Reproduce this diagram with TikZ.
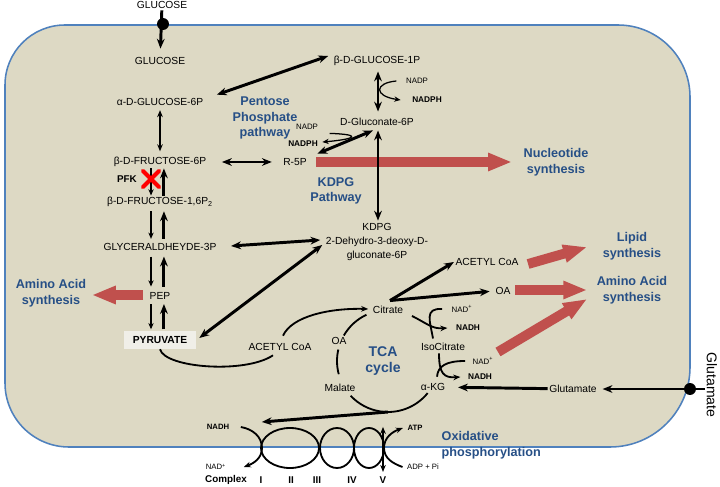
\documentclass[tikz,border=0pt]{standalone}
\usepackage{fontspec}
\setmainfont{Liberation Sans}
\usetikzlibrary{arrows.meta, positioning, calc, shapes.misc}

\definecolor{cellfill}{RGB}{221,217,196}
\definecolor{cellline}{RGB}{79,129,189}
\definecolor{pathblue}{RGB}{38,79,134}
\definecolor{synred}{RGB}{192,80,77}
\definecolor{pyrfill}{RGB}{240,239,232}

\tikzset{
  met/.style={font=\fontsize{7.3}{10}\selectfont, inner sep=1pt, align=center},
  cof/.style={font=\fontsize{5.6}{6}\selectfont, inner sep=1pt},
  cofb/.style={font=\fontsize{5.9}{6}\selectfont\bfseries, inner sep=1pt},
  cofs/.style={font=\fontsize{5.5}{6}\selectfont, inner sep=1pt},
  cofsb/.style={font=\fontsize{5.5}{6}\selectfont\bfseries, inner sep=1pt},
  cplx/.style={font=\fontsize{7}{8}\selectfont\bfseries, inner sep=1pt},
  pway/.style={font=\fontsize{9}{11.2}\selectfont\bfseries, text=pathblue, align=center, inner sep=1pt},
  thk/.style={line width=2.1pt, -{Stealth[length=7pt,width=5.5pt]}},
  thkdbl/.style={line width=2.1pt, {Stealth[length=7pt,width=5.5pt]}-{Stealth[length=7pt,width=5.5pt]}},
  thn/.style={line width=0.9pt, -{Stealth[length=4.5pt,width=3.8pt]}},
  thndbl/.style={line width=1.2pt, {Stealth[length=5pt,width=4pt]}-{Stealth[length=5pt,width=4pt]}},
  cyc/.style={line width=1.3pt},
  cycarr/.style={line width=1.3pt, -{Stealth[length=5pt,width=4pt]}},
  synarr/.style={draw=synred, line width=7pt, -{Triangle[length=17pt,width=12pt]}},
  port/.style={circle, fill=black, inner sep=0pt, minimum size=8.5pt},
}

\begin{document}
\begin{tikzpicture}[x=0.025cm, y=0.025cm]
    \useasboundingbox (0,0) rectangle (720,486);

    \draw[fill=cellfill, draw=cellline, line width=1.1pt] (5,250) [rounded corners=1.5cm] -- (5,461) [rounded corners=1.8cm] -- (690,461) [rounded corners=2cm] -- (690,39) [rounded corners=1.6cm] -- (5,39) -- cycle;

    \node[met] (glcout) at (162,481) {GLUCOSE};
    \node[met] (glcin) at (160,425) {GLUCOSE};
    \node[met] (g6p) at (160,384) {α-D-GLUCOSE-6P};
    \node[met] (f6p) at (160,324) {β-D-FRUCTOSE-6P};
    \node[met] (f16) at (160,284) {β-D-FRUCTOSE-1,6P\textsubscript{2}};
    \node[met] (gap) at (160,239) {GLYCERALDHEYDE-3P};
    \node[met] (pep) at (160,190) {PEP};
    \node[met, font=\fontsize{7.3}{10}\selectfont\bfseries, fill=pyrfill, minimum width=1.8cm, minimum height=0.45cm] (pyr) at (160,146) {PYRUVATE};
    \node[pway] (aaleft) at (51,193) {Amino Acid\\synthesis};

    \node[pway] (ppp) at (265,368) {Pentose\\Phosphate\\pathway};
    \node[met] (g1p) at (377,425) {β-D-GLUCOSE-1P};
    \node[cof] (nadp1) at (417,405) {NADP};
    \node[cofb] (nadph1) at (427,386) {NADPH};
    \node[met] (glc6p) at (377,364) {D-Gluconate-6P};
    \node[met] (r5p) at (295,324) {R-5P};
    \node[cof] (nadp2) at (307,359) {NADP};
    \node[cofb] (nadph2) at (303,342) {NADPH};
    \node[pway] (kdpgpw) at (336,295) {KDPG\\Pathway};
    \node[pway] (nucl) at (556,324) {Nucleotide\\synthesis};
    \node[met] (kdpg) at (377,244) {KDPG\\2-Dehydro-3-deoxy-D-\\gluconate-6P};

    \coordinate (tcac) at (388,125);
    \node[met] (cit) at (388,176) {Citrate};
    \node[met] (iso) at (443,139) {IsoCitrate};
    \node[met] (akg) at (433,99) {α-KG};
    \node[met] (mal) at (340,98) {Malate};
    \node[met] (oa) at (339,145) {OA};
    \node[pway, font=\fontsize{10}{12}\selectfont\bfseries] (tca) at (383,125) {TCA\\cycle};
    \node[met] (acoa) at (280,139) {ACETYL CoA};
    \node[met] (acoa2) at (487,224) {ACETYL CoA};
    \node[met] (oa2) at (503,195) {OA};
    \node[pway] (lipid) at (632,240) {Lipid\\synthesis};
    \node[pway] (aaright) at (632,196) {Amino Acid\\synthesis};
    \node[cof] (nad1) at (462,177) {NAD\textsuperscript{+}};
    \node[cofb] (nadh1) at (468,158) {NADH};
    \node[cof] (nad2) at (483,125) {NAD\textsuperscript{+}};
    \node[cofb] (nadh2) at (480,109) {NADH};
    \node[met] (glu) at (573,97) {Glutamate};
    \node[font=\fontsize{10}{12}\selectfont, rotate=-90, inner sep=1pt] (gluout) at (712,101) {Glutamate};

    \node[cofsb] (nadh3) at (218,59) {NADH};
    \node[cofs] (nad3) at (216,19) {NAD\textsuperscript{+}};
    \node[cofsb] (atp) at (415,58) {ATP};
    \node[cofs] (adp) at (423,19) {ADP + Pi};
    \node[pway, align=left, anchor=west] (oxph) at (440,41) {Oxidative\\phosphorylation};
    \node[cplx] (cplx) at (226,6) {Complex};
    \node[cplx] (cI) at (261,6) {I};
    \node[cplx] (cII) at (291,6) {II};
    \node[cplx] (cIII) at (317,6) {III};
    \node[cplx] (cIV) at (352,6) {IV};
    \node[cplx] (cV) at (383,6) {V};

    \draw[synarr] ($(pep.west)+(-5,1)$) -- ($(aaleft.east)+(4,-2)$);
    \draw[synarr] ($(r5p.east)+(8,0)$) -- ($(nucl.west)+(-10,0)$);
    \draw[synarr] ($(acoa2.east)+(8,-2)$) -- ($(lipid.west)+(-14,-1)$);
    \draw[synarr] ($(oa2.east)+(3,1)$) -- ($(aaright.west)+(-8,0)$);
    \coordinate (isoout) at (498,134);
    \draw[synarr] (isoout) -- ($(aaright.west)+(-8,-9)$);

    \draw[thk, shorten >=5pt] (glcout) -- (glcin);
    \node[port] (gport) at (163,462) {};
    \draw[thndbl, shorten <=2pt, shorten >=3pt] (g6p) -- (f6p);
    \draw[thn] ([xshift=-6.4pt]f6p.south) -- ([xshift=-6.4pt]f16.north);
    \draw[thk] ([xshift=2.8pt]f16.north) -- ([xshift=2.8pt]f6p.south);
    \draw[thn, shorten <=2pt, shorten >=2pt] ([xshift=-6.4pt]f16.south) -- ([xshift=-6.4pt]gap.north);
    \draw[thk, shorten <=2pt, shorten >=2pt] ([xshift=2.8pt]gap.north) -- ([xshift=2.8pt]f16.south);
    \draw[thn, shorten <=3pt, shorten >=3pt] ([xshift=-6.4pt]gap.south) -- ([xshift=-6.4pt]pep.north);
    \draw[thk, shorten <=3pt, shorten >=3pt] ([xshift=2.8pt]pep.north) -- ([xshift=2.8pt]gap.south);
    \draw[thn, shorten <=2pt, shorten >=1pt] ([xshift=-6.4pt]pep.south) -- ([xshift=-6.4pt]pyr.north);
    \draw[thk, shorten <=1pt, shorten >=2pt] ([xshift=2.8pt]pyr.north) -- ([xshift=2.8pt]pep.south);
    \node[draw=red, line width=2.8pt, line cap=round, cross out, minimum size=9pt, inner sep=0pt] (pfkx) at (151,307) {};
    \node[font=\fontsize{7}{8}\selectfont\bfseries, inner sep=1pt, left=3pt of pfkx] (pfk) {PFK};

    \draw[thkdbl] ($(g6p.north east)+(12,2)$) -- ($(g1p.west)+(-4,5)$);
    \draw[thkdbl] ($(g1p.south)+(1,-4)$) -- ($(glc6p.north)+(1,5)$);
    \draw[thn] ($(nadp1.west)+(-8,0)$) .. controls +(-22,-2) and +(-27,4) .. ($(nadph1.west)+(-10,0)$);
    \draw[thkdbl, shorten <=10pt, shorten >=7pt] (f6p) -- (r5p);
    \draw[thkdbl] ($(r5p.north east)+(9,3)$) -- ($(glc6p.south)+(-4,-3)$);
    \draw[thn] ($(nadp2.south east)+(10,-2)$) .. controls +(32,-1) and +(35,3) .. ($(nadph2.east)+(3,2)$);
    \draw[thkdbl] ($(glc6p.south)+(1,-3)$) -- ($(kdpg.north)+(1,1)$);
    \draw[thkdbl] ($(gap.east)+(13,1)$) -- ($(kdpg.west)+(-4,2)$);
    \draw[thkdbl] ($(pyr.east)+(3,2)$) -- ($(kdpg.west)+(-2,-3)$);

    \draw[cyc] (pyr.south) .. controls (165,118) and (245,112) .. ($(acoa.south)+(-7,-3)$);
    \draw[cycarr] ($(acoa.north)+(3,6)$) .. controls (292,170) and (330,178) .. ($(cit.west)+(-3,1)$);
    \draw[cyc] ($(tcac)+(150:51)$) arc[start angle=150, end angle=115, radius=51];
    \draw[cyc] ($(tcac)+(195:51)$) arc[start angle=195, end angle=167, radius=51];
    \draw[cyc] ($(tcac)+(-39:51)$) arc[start angle=-39, end angle=-137, radius=51];
    \draw[cycarr] ($(tcac)+(62:51)$) .. controls (428,162) and (432,157) .. ($(nadh1.west)+(-7,0)$);
    \draw[cyc] ($(nad1.west)+(-8,0)$) .. controls (424,178) and (430,165) .. ($(iso.north)+(-10,3)$);
    \draw[cycarr] ($(iso.south)+(-4,-1)$) .. controls (439,112) and (444,108) .. ($(nadh2.west)+(-6,0)$);
    \draw[cyc] ($(nad2.west)+(-6,0)$) .. controls (446,125) and (438,120) .. ($(akg.north)+(4,5)$);
    \draw[thk] ($(cit.north)+(2,4)$) -- (acoa2.west);
    \draw[thk, shorten >=3pt] ($(cit.north)+(2,4)$) -- (oa2.west);

    \node[port] (uport) at (690,97) {};
    \draw[thk, shorten >=3pt] (gluout.south |- glu) -- (glu);
    \draw[thk, shorten >=8pt] (glu) -- (akg);

    \coordinate (tcabot) at ($(tcac)+(0,-51)$);
    \draw[thk] (tcabot) -- ($(nadh3.east)+(31,5)$);
    \draw[cyc] (290,38) ellipse[x radius=29, y radius=20];
    \draw[cyc] (337,38) ellipse[x radius=17, y radius=20];
    \draw[cyc] (369,38) ellipse[x radius=15, y radius=20];
    \draw[cycarr] ($(nadh3.east)+(10,0)$) to[out=-10, in=90] (262,38) to[out=-90, in=20] ($(nad3.east)+(16,0)$);
    \draw[cycarr] ($(adp.west)+(-3,0)$) to[out=160, in=-90] (384,38) to[out=90, in=-160] ($(atp.west)+(-3,0)$);
    \draw[thndbl] ($(cV.north)+(0,3)$) -- ++(0,45);
\end{tikzpicture}
\end{document}
